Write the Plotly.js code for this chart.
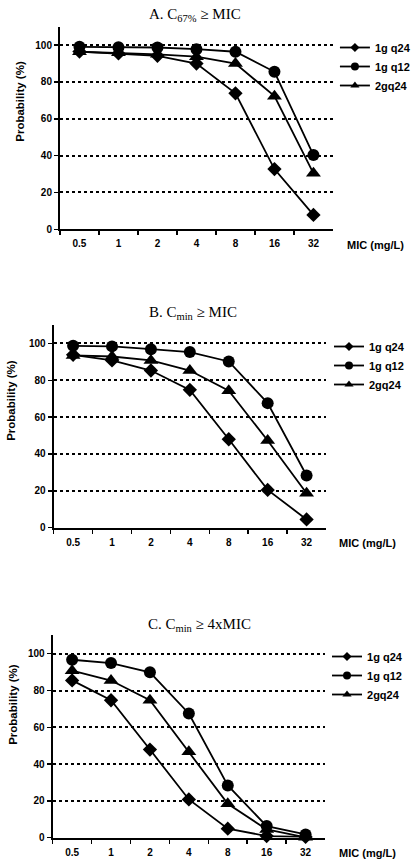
<!DOCTYPE html>
<html><head><meta charset="utf-8">
<script src="https://cdn.plot.ly/plotly-3.0.1.min.js"></script>
<style>html,body{margin:0;padding:0;background:#fff}#chart{width:416px;height:866px}</style>
</head><body><div id="chart"></div>
<script>
const micLabels = ["0.5","1","2","4","8","16","32"];
const seriesNames = ["1g q24","1g q12","2gq24"];
const panelTitles = ["A. C<sub>67%</sub> ≥ MIC","B. C<sub>min</sub> ≥ MIC","C. C<sub>min</sub> ≥ 4xMIC"];

const a_1gq24 = [96.5, 95.5, 94.2, 90, 73.8, 32.7, 7.8];
const a_1gq12 = [99.1, 98.9, 98.7, 97.8, 96.4, 85.5, 40.3];
const a_2gq24 = [96.4, 95.8, 95, 93.7, 90, 72.3, 30.4];

const b_1gq24 = [93.8, 90.8, 85.3, 74.8, 48, 20.5, 4.5];
const b_1gq12 = [98.7, 98.4, 96.9, 95.3, 90.2, 67.6, 28.3];
const b_2gq24 = [93.5, 92.9, 90.8, 85.3, 74.3, 47.3, 18.7];

const c_1gq24 = [85.5, 74.7, 47.9, 20.8, 4.9, 0.9, 0.4];
const c_1gq12 = [96.7, 94.9, 89.9, 67.5, 28.4, 6.3, 1.8];
const c_2gq24 = [90.8, 85.4, 74.7, 46.7, 18.4, 4.5, 0.2];

const panels = [[a_1gq24,a_1gq12,a_2gq24],[b_1gq24,b_1gq12,b_2gq24],[c_1gq24,c_1gq12,c_2gq24]];
const symbols = ["diamond","circle","triangle-up"];
const sizes = [11, 12, 13];
const legSizes = [7, 8, 8];

const W = 416, H = 866;
// pixel geometry per panel: [xLeft, xRight, yBottom, yTop]
const geom = [[60.7, 337, 229.3, 26.7],[54.3, 330, 527.7, 325],[53.3, 329, 837.7, 635.3]];
const titlePos = [[197, 15],[195, 313],[202, 625]];
const micPos = [[380, 245],[372, 543],[372, 853]];
const legendPos = [[339, 33],[333, 332],[331, 642]];
const yTitlePos = [[20, 101],[11, 400],[13, 704]];

const traces = [];
const layout = {
  width: W, height: H, margin:{l:0,r:0,t:0,b:0},
  paper_bgcolor:"#fff", plot_bgcolor:"#fff",
  font:{family:"Liberation Sans, Arial, sans-serif", color:"#000"},
  annotations: [], showlegend: true
};
const tickFont = {family:"Liberation Sans, Arial, sans-serif", size:10, weight:"bold", color:"#000"};

panels.forEach((p, i) => {
  const n = i === 0 ? "" : String(i+1);
  const g = geom[i];
  const legName = i === 0 ? "legend" : "legend" + (i+1);
  p.forEach((vals, s) => {
    traces.push({
      x: micLabels, y: vals, type:"scatter", mode:"lines+markers",
      name: seriesNames[s], xaxis:"x"+n, yaxis:"y"+n, showlegend:false,
      line:{color:"#000", width:1.8},
      marker:{symbol:symbols[s], size:sizes[s], color:"#000"},
      cliponaxis:false
    });
  });
  p.forEach((vals, s) => {
    traces.push({
      x: [null], y: [null], type:"scatter", mode:"lines+markers",
      name: seriesNames[s], xaxis:"x"+n, yaxis:"y"+n, legend: legName, showlegend:true,
      line:{color:"#000", width:1.8},
      marker:{symbol:symbols[s], size:legSizes[s], color:"#000"}
    });
  });
  layout["xaxis"+n] = {
    domain:[g[0]/W, g[1]/W], anchor:"y"+n, type:"category",
    range:[-0.5, 6.5], showline:true, linecolor:"#000", linewidth:2,
    ticks:"outside", ticklen:4, tickwidth:1.5, tickcolor:"#000", tickson:"boundaries",
    ticklabelstandoff:4,
    showgrid:false, zeroline:false, tickfont:tickFont, fixedrange:true
  };
  layout["yaxis"+n] = {
    domain:[1-g[2]/H, 1-g[3]/H], anchor:"x"+n, range:[0,110],
    tickvals:[0,20,40,60,80,100], showline:true, linecolor:"#000", linewidth:2,
    ticks:"outside", ticklen:4, tickwidth:1.5, tickcolor:"#000",
    showgrid:true, gridcolor:"#000", gridwidth:2, griddash:"dot",
    zeroline:false, tickfont:tickFont, fixedrange:true
  };
  layout[legName] = {
    x: legendPos[i][0]/W, y: 1-legendPos[i][1]/H, xanchor:"left", yanchor:"top",
    bgcolor:"rgba(0,0,0,0)", font:{size:11, weight:"bold", color:"#000"},
    tracegroupgap:0, itemwidth:30
  };
  layout.annotations.push({
    text: panelTitles[i], xref:"paper", yref:"paper",
    x: titlePos[i][0]/W, y: 1-titlePos[i][1]/H, xanchor:"center", yanchor:"middle",
    showarrow:false, font:{family:"Liberation Serif, Times New Roman, serif", size:15, color:"#000"}
  });
  layout.annotations.push({
    text: "MIC (mg/L)", xref:"paper", yref:"paper",
    x: micPos[i][0]/W, y: 1-micPos[i][1]/H, xanchor:"center", yanchor:"middle",
    showarrow:false, font:{size:11, weight:"bold", color:"#000"}
  });
  layout.annotations.push({
    text: "Probability (%)", xref:"paper", yref:"paper", textangle:-90,
    x: yTitlePos[i][0]/W, y: 1-yTitlePos[i][1]/H, xanchor:"center", yanchor:"middle",
    showarrow:false, font:{size:11.5, weight:"bold", color:"#000"}
  });
});

Plotly.newPlot("chart", traces, layout, {displayModeBar:false, staticPlot:true});
</script></body></html>
